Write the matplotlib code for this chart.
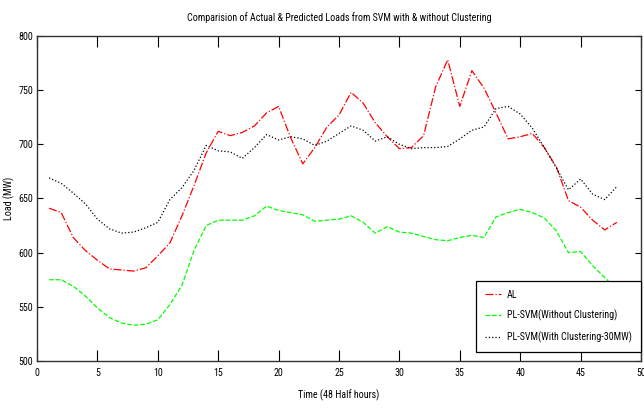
import matplotlib
matplotlib.use("Agg")
import matplotlib.pyplot as plt
import numpy as np

# half-hour index
t = np.arange(1, 49)

# actual load (MW)
al = [641, 637, 614, 602, 593, 585, 584, 583, 586, 597,
      609, 634, 662, 692, 712, 708, 711, 717, 729, 735,
      706, 682, 697, 716, 727, 748, 738, 720, 707, 696,
      697, 708, 753, 778, 735, 768, 752, 729, 705, 707,
      710, 697, 679, 648, 642, 630, 621, 628]

# SVM prediction, no clustering
pl_noclust = [575, 575, 569, 560, 549, 540, 535, 533, 534, 538,
              552, 570, 602, 625, 630, 630, 630, 634, 643, 639,
              637, 635, 629, 630, 631, 634, 628, 618, 624, 619,
              618, 615, 612, 611, 614, 616, 614, 633, 637, 640,
              637, 632, 620, 600, 601, 588, 577, 566]

# SVM prediction, clustering at 30MW
pl_clust = [669, 664, 655, 645, 631, 622, 618, 619, 623, 628,
            649, 660, 676, 699, 694, 693, 687, 697, 709, 704,
            707, 705, 699, 703, 710, 717, 713, 703, 707, 700,
            696, 697, 697, 698, 705, 713, 716, 733, 735, 728,
            715, 697, 678, 658, 668, 654, 649, 661]

plt.rcParams["font.family"] = ["Roboto Condensed", "DejaVu Sans"]
fs = 7.2

fig = plt.figure(figsize=(6.44, 4.08), dpi=100)
ax = fig.add_axes([0.0575, 0.1152, 0.9378, 0.7966])

ax.plot(t, al, color="#ff0000", linestyle="-.", linewidth=0.9, label="AL")
ax.plot(t, pl_noclust, color="#00ff00", linestyle="--", linewidth=0.9,
        label="PL-SVM(Without Clustering)")
ax.plot(t, pl_clust, color="black", linestyle=":", linewidth=0.9,
        label="PL-SVM(With Clustering-30MW)")

ax.set_xlim(0, 50)
ax.set_ylim(500, 800)
ax.set_xticks(np.arange(0, 51, 5))
ax.set_yticks(np.arange(500, 801, 50))
ax.tick_params(axis="x", direction="in", length=8, width=0.8, top=True,
               labelsize=fs, pad=5)
ax.tick_params(axis="y", direction="in", length=4, width=0.8, right=True,
               labelsize=fs, pad=3)
for s in ax.spines.values():
    s.set_linewidth(1.0)
    s.set_color("#333333")

ax.set_title("Comparision of Actual & Predicted Loads from SVM with & without Clustering",
             fontsize=fs, pad=11)
ax.set_xlabel("Time (48 Half hours)", fontsize=fs, labelpad=8)
ax.set_ylabel("Load (MW)", fontsize=fs, labelpad=2)

leg = ax.legend(loc="lower right", bbox_to_anchor=(1.0, 0.028), borderaxespad=0,
                fontsize=fs, frameon=True, fancybox=False, edgecolor="black",
                framealpha=1, handlelength=1.6, handletextpad=0.6,
                labelspacing=1.0, borderpad=0.9)
leg.get_frame().set_linewidth(0.9)

fig.savefig("out.png", dpi=100)
